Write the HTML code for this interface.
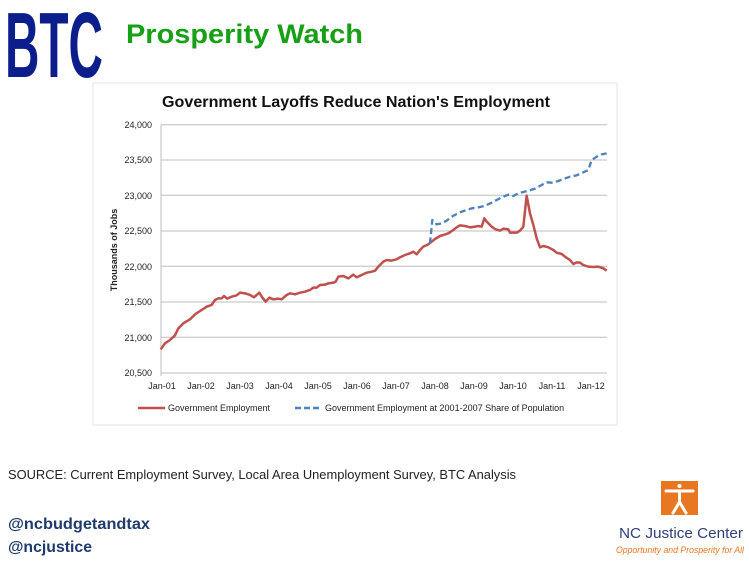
<!DOCTYPE html>
<html><head><meta charset="utf-8"><style>
html,body{margin:0;padding:0;background:#fff;}
body{width:749px;height:562px;overflow:hidden;font-family:"Liberation Sans",sans-serif;}
</style></head><body>
<svg width="749" height="562" viewBox="0 0 749 562" xmlns="http://www.w3.org/2000/svg">
<text x="5" y="77" font-family="Liberation Sans Narrow, Liberation Sans, sans-serif" font-weight="bold" font-size="93" fill="#0b1e8c" textLength="98" lengthAdjust="spacingAndGlyphs">BTC</text>
<text x="126" y="43" font-family="Liberation Sans, sans-serif" font-weight="bold" font-size="27" fill="#16a016" textLength="237" lengthAdjust="spacingAndGlyphs">Prosperity Watch</text>
<rect x="93" y="83" width="524" height="342" fill="#fff" stroke="#e6e6e6"/>
<text x="356" y="107" text-anchor="middle" font-weight="bold" font-size="16" fill="#111" textLength="388" lengthAdjust="spacingAndGlyphs">Government Layoffs Reduce Nation's Employment</text>
<g stroke="#bdbdbd" stroke-width="1">
<line x1="161" y1="124.7" x2="607" y2="124.7"/><line x1="161" y1="160" x2="607" y2="160"/>
<line x1="161" y1="195.3" x2="607" y2="195.3"/><line x1="161" y1="231" x2="607" y2="231"/>
<line x1="161" y1="266.3" x2="607" y2="266.3"/><line x1="161" y1="302" x2="607" y2="302"/>
<line x1="161" y1="337.3" x2="607" y2="337.3"/><line x1="161" y1="373" x2="607" y2="373"/>
<line x1="161" y1="124.7" x2="161" y2="376"/>
</g>
<g font-size="9" fill="#222" text-anchor="end">
<text x="152" y="128">24,000</text><text x="152" y="163">23,500</text><text x="152" y="199">23,000</text>
<text x="152" y="234">22,500</text><text x="152" y="270">22,000</text><text x="152" y="305">21,500</text>
<text x="152" y="341">21,000</text><text x="152" y="376">20,500</text>
</g>
<g font-size="9" fill="#222" text-anchor="middle">
<text x="162" y="389">Jan-01</text><text x="201" y="389">Jan-02</text><text x="240" y="389">Jan-03</text>
<text x="279" y="389">Jan-04</text><text x="318" y="389">Jan-05</text><text x="357" y="389">Jan-06</text>
<text x="396" y="389">Jan-07</text><text x="435" y="389">Jan-08</text><text x="474" y="389">Jan-09</text>
<text x="513" y="389">Jan-10</text><text x="552" y="389">Jan-11</text><text x="591" y="389">Jan-12</text>
</g>
<text transform="translate(117,250) rotate(-90)" text-anchor="middle" font-size="9" font-weight="bold" fill="#222">Thousands of Jobs</text>
<g transform="translate(95,110) scale(0.33333)" fill="none" stroke-linejoin="round">
<polyline stroke="#c0504d" stroke-width="7.5" points="197,718 210,700 225,690 240,676 250,655 265,640 285,628 300,613 320,600 335,590 350,585 360,570 370,565 380,565 387,558 397,566 410,560 425,556 435,548 450,550 465,555 477,562 493,548 500,560 512,575 523,563 535,568 550,566 560,568 575,555 585,550 600,553 615,548 630,545 645,540 655,533 665,533 675,525 690,524 700,520 715,518 722,515 730,500 745,498 760,505 775,494 785,502 800,495 815,488 830,485 840,482 850,470 865,455 875,450 888,452 905,448 915,442 930,435 945,430 955,425 965,433 975,420 985,410 1000,403 1010,395 1020,387 1035,378 1045,375 1060,370 1075,360 1085,352 1095,346 1110,348 1125,352 1140,350 1150,348 1160,350 1168,325 1175,335 1190,350 1200,357 1215,362 1225,356 1240,358 1245,368 1265,368 1275,362 1285,350 1295,257 1305,310 1315,345 1325,385 1335,412 1345,408 1360,412 1375,420 1385,428 1400,432 1410,440 1425,450 1435,462 1445,457 1455,458 1465,465 1480,470 1495,471 1510,470 1525,475 1535,482"/>
<polyline stroke="#4f81bd" stroke-width="7" stroke-dasharray="18,10" points="1005,400 1012,330 1025,343 1040,340 1055,332 1070,320 1085,312 1100,305 1115,300 1130,295 1145,293 1160,290 1175,285 1190,278 1205,270 1220,262 1240,254 1255,258 1270,250 1285,246 1300,242 1320,236 1340,225 1355,217 1370,218 1390,213 1405,207 1425,200 1445,196 1465,187 1480,180 1490,150 1505,140 1520,133 1535,130"/>
</g>
<line x1="138" y1="408" x2="165" y2="408" stroke="#c0504d" stroke-width="2.5"/>
<text x="168" y="411" font-size="9" fill="#222">Government Employment</text>
<line x1="295" y1="408" x2="322" y2="408" stroke="#4f81bd" stroke-width="2.5" stroke-dasharray="6,3"/>
<text x="325" y="411" font-size="9" fill="#222">Government Employment at 2001-2007 Share of Population</text>
<text x="8" y="479" font-size="13" fill="#222" textLength="508" lengthAdjust="spacingAndGlyphs">SOURCE: Current Employment Survey, Local Area Unemployment Survey, BTC Analysis</text>
<text x="8" y="529" font-size="16" font-weight="bold" fill="#1f3b6e" textLength="142" lengthAdjust="spacingAndGlyphs">@ncbudgetandtax</text>
<text x="8" y="552" font-size="16" font-weight="bold" fill="#1f3b6e" textLength="84" lengthAdjust="spacingAndGlyphs">@ncjustice</text>
<rect x="661" y="481" width="37" height="34" fill="#e87722"/>
<g stroke="#fff" stroke-width="3" fill="none" stroke-linecap="round">
<circle cx="679.5" cy="486" r="2" fill="#fff" stroke="none"/>
<line x1="666" y1="491" x2="693" y2="491"/>
<line x1="679.5" y1="491" x2="679.5" y2="502"/>
<line x1="679.5" y1="502" x2="673" y2="513"/>
<line x1="679.5" y1="502" x2="686" y2="513"/>
</g>
<text x="681" y="538" text-anchor="middle" font-size="15" fill="#2e3f7a" textLength="124" lengthAdjust="spacingAndGlyphs">NC Justice Center</text>
<text x="680" y="553" text-anchor="middle" font-size="9" font-style="italic" fill="#e87722" textLength="128" lengthAdjust="spacingAndGlyphs">Opportunity and Prosperity for All</text>
</svg>
</body></html>
